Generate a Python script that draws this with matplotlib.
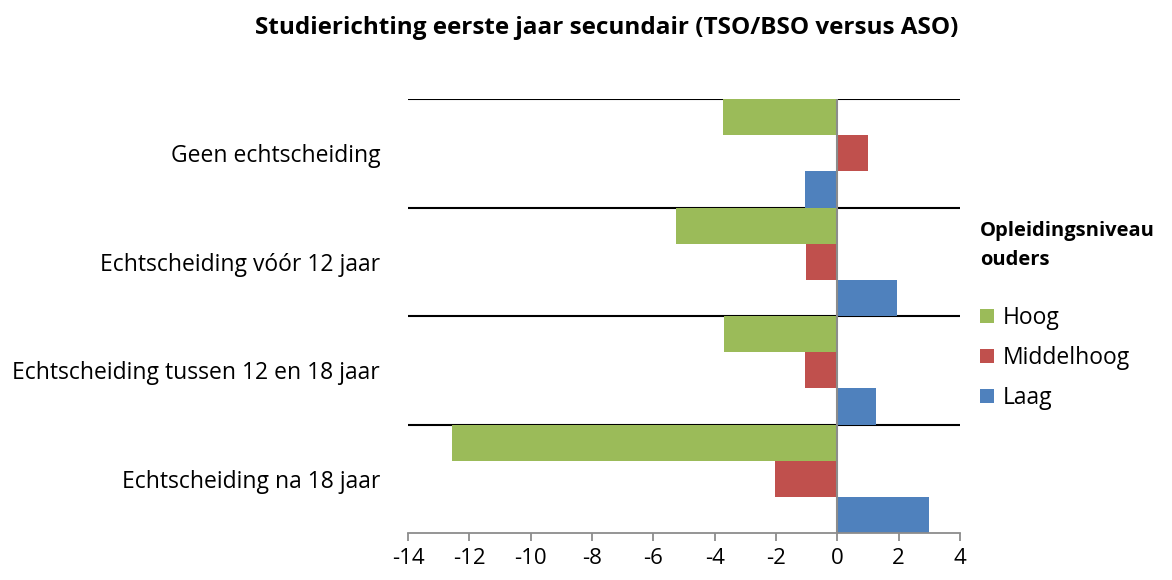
import matplotlib.pyplot as plt
import numpy as np
from matplotlib.patches import Patch

# data
categories = ["Geen echtscheiding", "Echtscheiding vóór 12 jaar",
              "Echtscheiding tussen 12 en 18 jaar", "Echtscheiding na 18 jaar"]
series = ["Hoog", "Middelhoog", "Laag"]
hoog = [-3.72, -5.27, -3.71, -12.55]
middelhoog = [1.0, -1.03, -1.05, -2.03]
laag = [-1.05, 1.93, 1.25, 2.98]
colors = ["#9BBB59", "#C0504D", "#4F81BD"]
xticks = list(range(-14, 5, 2))

plt.rcParams['font.family'] = ['Open Sans', 'DejaVu Sans']

fig = plt.figure(figsize=(11.72, 5.8), dpi=100)
ax = fig.add_axes([408 / 1172, 1 - 533 / 580, 552 / 1172, 434 / 580])

y = np.arange(len(categories))
h = 1 / 3
for k, (vals, c) in enumerate(zip([hoog, middelhoog, laag], colors)):
    ax.barh(y - h + k * h, vals, height=h, color=c, zorder=2)

ax.set_xlim(-14, 4)
ax.set_ylim(len(categories) - 0.5, -0.5)

# category boundaries as black gridlines
for b in np.arange(-0.5, len(categories) - 0.5, 1):
    ax.axhline(b, color="black", lw=1.5, zorder=1)
ax.axvline(0, color="#8c8c8c", lw=1.5, zorder=3)

for s in ["top", "right", "left"]:
    ax.spines[s].set_visible(False)
ax.spines["bottom"].set_color("#8c8c8c")
ax.spines["bottom"].set_linewidth(1.3)

ax.set_xticks(xticks)
ax.set_xticklabels([str(t) for t in xticks], fontsize=16)
ax.tick_params(axis="x", direction="out", length=6, width=1.3, color="#8c8c8c", pad=5)
ax.set_yticks(y)
ax.set_yticklabels(categories, fontsize=16.5)
ax.tick_params(axis="y", length=0, pad=20)

fig.text(607 / 1172, 1 - 28 / 580, "Studierichting eerste jaar secundair (TSO/BSO versus ASO)",
         ha="center", va="center", fontsize=17.5, fontweight="bold")

handles = [Patch(facecolor=c, label=s) for s, c in zip(series, colors)]
leg = fig.legend(handles=handles, loc="upper left", bbox_to_anchor=(980 / 1172, 1 - 221 / 580),
                 frameon=False, fontsize=16.5, title="Opleidingsniveau\nouders",
                 title_fontproperties={"weight": "bold", "size": 14.5},
                 handlelength=0.6, handleheight=0.6, handletextpad=0.4,
                 labelspacing=0.7, alignment="left", borderpad=0, borderaxespad=0)
leg.get_title().set_linespacing(1.6)
leg._legend_box.sep = 26

fig.savefig("out.png", dpi=100)
